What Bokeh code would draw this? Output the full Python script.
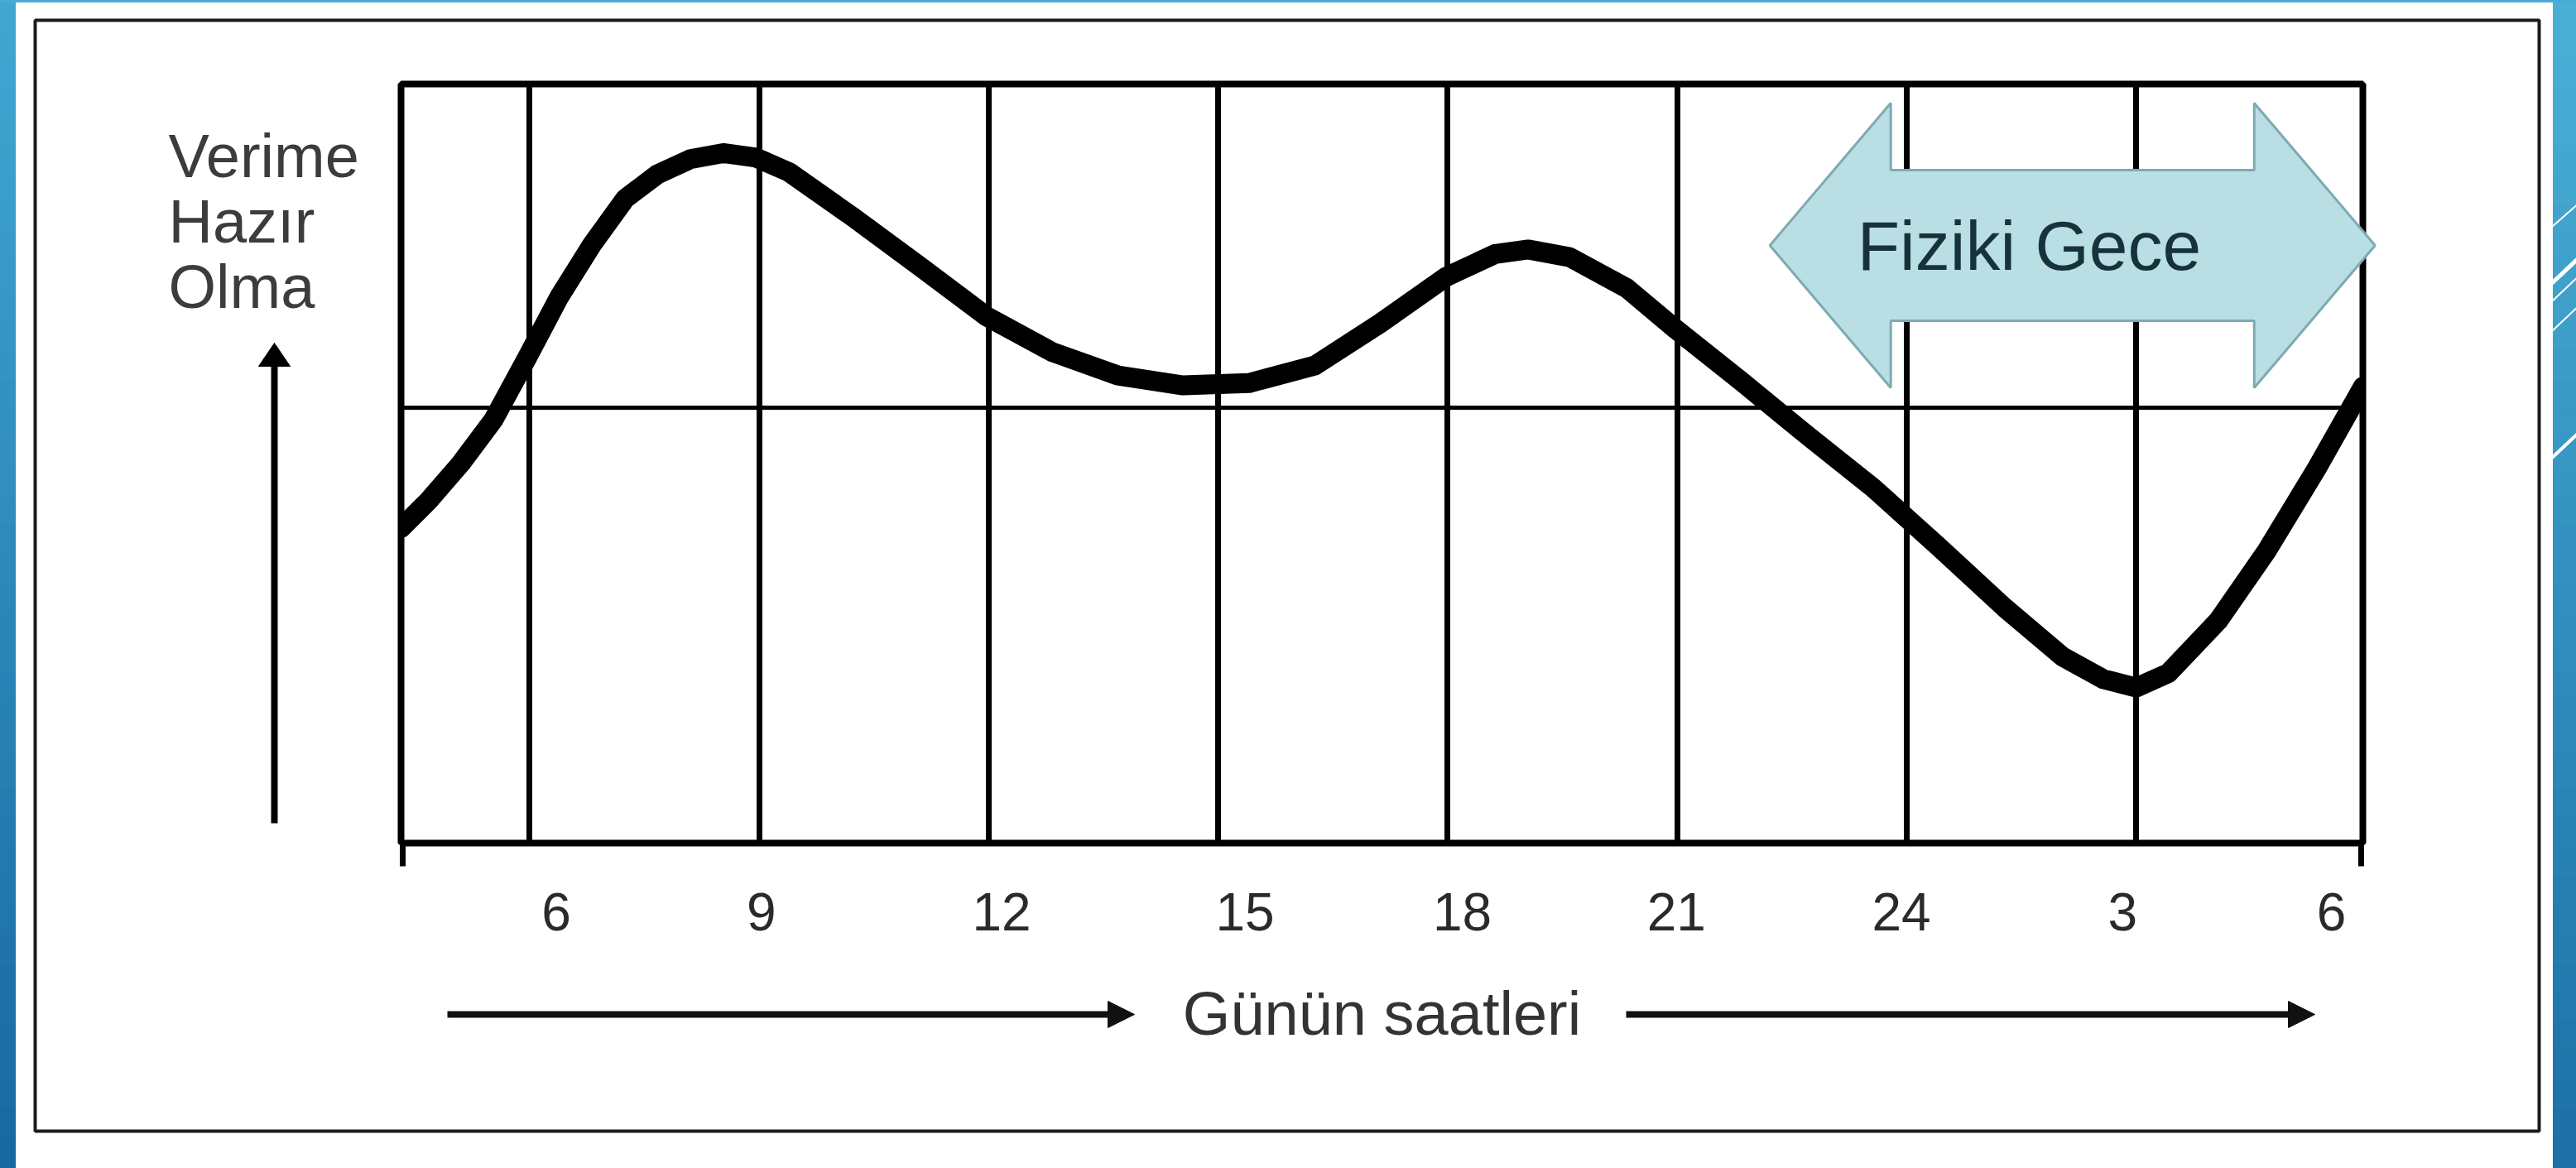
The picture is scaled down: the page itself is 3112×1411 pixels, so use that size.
from bokeh.plotting import figure
from bokeh.models import Range1d, FixedTicker, Grid
from bokeh.embed import file_html
from bokeh.resources import INLINE
from bokeh.core.properties import value

# ---------------- data ----------------
hours = [4.32, 4.67, 5.10, 5.53, 5.96, 6.39, 6.82, 7.25, 7.67, 8.10, 8.53, 8.96, 9.39,
         10.25, 11.11, 11.97, 12.83, 13.69, 14.54, 15.40, 16.26, 17.12, 17.98, 18.62,
         19.05, 19.59, 20.34, 20.98, 21.84, 22.70, 23.56, 24.42, 25.28, 26.03, 26.57,
         27.00, 27.42, 28.07, 28.71, 29.36, 29.96]
readiness = [41.5, 45.0, 50.0, 55.8, 63.8, 72.0, 78.9, 84.9, 88.1, 90.1, 90.9, 90.3, 88.4,
             82.3, 75.9, 69.4, 64.7, 61.6, 60.3, 60.6, 62.9, 68.5, 74.6, 77.6,
             78.2, 77.2, 73.1, 67.7, 60.8, 53.7, 46.8, 39.0, 31.0, 24.6, 21.6,
             20.5, 22.4, 29.3, 38.6, 49.4, 60.1]
grid_hours = [6, 9, 12, 15, 18, 21, 24, 27]
tick_hours = [6.35, 9.03, 12.17, 15.35, 18.19, 20.99, 23.93, 26.82, 29.55]
tick_labels = ["6", "9", "12", "15", "18", "21", "24", "3", "6"]
reference_level = 57.4
night_start = 22.21
night_end = 30.12
night_label = "Fiziki Gece"
y_title = ["Verime", "Hazır", "Olma"]
x_title = "Günün saatleri"

# ---------------- layout ----------------
W, H = 3112, 1411
X0, X1 = 4.32, 29.96
Y0, Y1 = 0.0, 100.0
FL, FR, FT, FB = 484, 2854, 101, 1018   # frame edges on the canvas (px)
KX = (X1 - X0) / (FR - FL)
KY = (Y1 - Y0) / (FB - FT)


def hx(px):  # canvas pixel -> data x
    return X0 + (px - FL) * KX


def vy(py):  # canvas pixel -> data y
    return Y0 + (FB - py) * KY


FONT = "Liberation Sans"

p = figure(width=W, height=H, x_range=Range1d(X0, X1), y_range=Range1d(Y0, Y1),
           output_backend="svg", toolbar_location=None, y_axis_location=None,
           min_border_left=FL, min_border_right=W - FR,
           min_border_top=FT, min_border_bottom=H - FB)
p.background_fill_color = "white"
p.border_fill_color = "white"
p.outline_line_color = "black"
p.outline_line_width = 8

# grid
p.xgrid.ticker = FixedTicker(ticks=grid_hours)
p.xgrid.grid_line_color = "black"
p.xgrid.grid_line_width = 7
p.ygrid.visible = False
hg = Grid(dimension=1, ticker=FixedTicker(ticks=[reference_level]),
          grid_line_color="black", grid_line_width=5)
p.add_layout(hg, "center")

# x axis
ax = p.xaxis[0]
ax.ticker = FixedTicker(ticks=tick_hours, minor_ticks=[X0 + 0.02, X1 - 0.02])
ax.major_label_overrides = {h: t for h, t in zip(tick_hours, tick_labels)}
ax.axis_line_color = None
ax.major_tick_line_color = None
ax.major_tick_out = 0
ax.major_tick_in = 0
ax.minor_tick_line_color = "black"
ax.minor_tick_line_width = 7
ax.minor_tick_out = 28
ax.minor_tick_in = 0
ax.major_label_text_font = FONT
ax.major_label_text_font_size = "64px"
ax.major_label_text_color = "#2a2a2a"
ax.major_label_standoff = 32
ax.axis_label = x_title
ax.axis_label_text_font = FONT
ax.axis_label_text_font_size = "74px"
ax.axis_label_text_font_style = "normal"
ax.axis_label_text_color = "#333333"
ax.axis_label_standoff = 56

# curve
p.line(hours, readiness, line_width=24, color="black", line_cap="round", line_join="round")

# ---------------- slide decorations (outside the frame) ----------------
def mix(c0, c1, t):
    return "#%02x%02x%02x" % tuple(int(round(a + (b - a) * t)) for a, b in zip(c0, c1))

nb = 40
lq = dict(left=[], right=[], top=[], bottom=[], color=[])
rq = dict(left=[], right=[], top=[], bottom=[], color=[])
for i in range(nb):
    t = (i + 0.5) / nb
    top = vy(i * H / nb)
    bot = vy((i + 1) * H / nb + 1)
    lq["left"].append(hx(-2)); lq["right"].append(hx(18))
    lq["top"].append(top); lq["bottom"].append(bot)
    lq["color"].append(mix((66, 168, 210), (24, 104, 160), t))
    rq["left"].append(hx(3084)); rq["right"].append(hx(W + 2))
    rq["top"].append(top); rq["bottom"].append(bot)
    rq["color"].append(mix((74, 176, 214), (28, 112, 166), t))
p.quad(left="left", right="right", top="top", bottom="bottom", color="color",
       source=lq, level="overlay")
p.quad(left="left", right="right", top="top", bottom="bottom", color="color",
       source=rq, level="overlay")
# thin blue line along the top edge
p.quad(left=[hx(0)], right=[hx(W)], top=[vy(-2)], bottom=[vy(2)], color="#4aaad4",
       level="overlay")
# white diagonal streaks on the right strip
sx0 = [hx(3082)] * 5
sx1 = [hx(W + 4)] * 5
sy0 = [vy(274), vy(342), vy(364), vy(400), vy(553)]
sy1 = [vy(244), vy(310), vy(332), vy(368), vy(521)]
p.segment(sx0, sy0, sx1, sy1, line_color="white", line_width=[2, 5, 2, 2, 4], level="overlay")

# outer frame of the slide picture
p.quad(left=[hx(42)], right=[hx(3067)], top=[vy(24)], bottom=[vy(1366)],
       fill_color=None, line_color="#1c1c1c", line_width=4, level="overlay")

# y title
p.text(x=[hx(203)] * 3, y=[vy(188), vy(267), vy(346)], text=y_title,
       text_font=value(FONT), text_font_size=value("74px"), text_color="#3c3c3c",
       text_align="left", text_baseline="alphabetic", level="overlay")


def head(tip_px, tip_py, direction, length, half):
    if direction == "up":
        xs = [tip_px, tip_px - half, tip_px + half]
        ys = [tip_py, tip_py + length, tip_py + length]
    else:
        xs = [tip_px, tip_px - length, tip_px - length]
        ys = [tip_py, tip_py - half, tip_py + half]
    return [hx(v) for v in xs], [vy(v) for v in ys]

# vertical arrow
p.segment([hx(331)], [vy(994)], [hx(331)], [vy(436)], line_color="black", line_width=8,
          level="overlay")
hxs, hys = head(331, 414, "up", 28, 19)
p.patch(hxs, hys, color="black", level="overlay")

# horizontal arrows around the x title
p.segment([hx(540), hx(1964)], [vy(1225)] * 2, [hx(1345), hx(2770)], [vy(1225)] * 2,
          line_color="#111111", line_width=8, level="overlay")
for tip in (1370, 2796):
    hxs, hys = head(tip, 1225, "right", 32, 16)
    p.patch(hxs, hys, color="#111111", level="overlay")

# night double arrow
cy = vy(296)
hh = vy(124) - cy
sh = vy(205) - cy
hl = 1.58
xs = [night_start, night_start + hl, night_start + hl, night_end - hl, night_end - hl,
      night_end, night_end - hl, night_end - hl, night_start + hl, night_start + hl]
ys = [cy, cy + hh, cy + sh, cy + sh, cy + hh, cy, cy - hh, cy - sh, cy - sh, cy - hh]
p.patch(xs, ys, fill_color="#b9dfe5", line_color="#7eaab2", line_width=3, level="overlay")
p.text(x=[hx(2451)], y=[cy], text=[night_label], text_font=value(FONT),
       text_font_size=value("84px"), text_color="#17323a", text_align="center",
       text_baseline="middle", level="overlay")

open("out.html", "w").write(file_html(p, INLINE))
